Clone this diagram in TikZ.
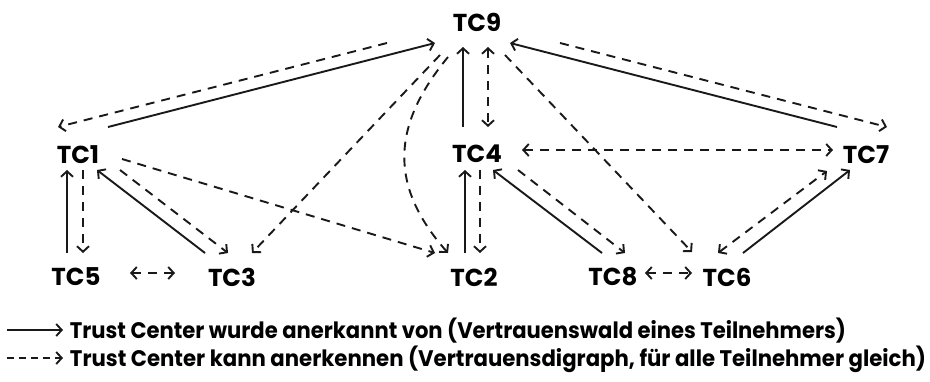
\documentclass[tikz,border=0pt]{standalone}
\usepackage{fontspec}
\usepackage{graphicx}
\setmainfont{Poppins}
\newfontfamily\tcfont{Poppins}
\newfontfamily\legfont{Poppins}
\usetikzlibrary{arrows.meta,calc}

\begin{document}
\begin{tikzpicture}[x=1pt,y=-1pt,
  line width=1.9pt,
  >={Straight Barb[length=5.5pt,width=12pt]},
  tc/.style={font=\tcfont\bfseries\fontsize{24.5}{24.5}\selectfont,inner sep=0pt},
  rec/.style={->,draw=black!90},
  can/.style={->,draw=black!90,dash pattern=on 9pt off 7pt},
  canboth/.style={<->,draw=black!90,dash pattern=on 9pt off 7pt},
  legtext/.style={font=\legfont\bfseries\fontsize{22.5}{22.5}\selectfont,inner sep=0pt,anchor=west}]
\useasboundingbox (0,0) rectangle (930,381);

% trust centers
\node[tc] (tc9) at (477,22)  {TC9};
\node[tc] (tc1) at (78,155)  {TC1};
\node[tc] (tc4) at (477,154) {TC4};
\node[tc] (tc7) at (866,155) {TC7};
\node[tc] (tc5) at (76,277)  {TC5};
\node[tc] (tc3) at (232,277) {TC3};
\node[tc] (tc2) at (474,277) {TC2};
\node[tc] (tc8) at (613,277) {TC8};
\node[tc] (tc6) at (727,277) {TC6};

% recognised trust (solid)
\draw[rec] ([shift={(30,-28)}]tc1.center) -- ([shift={(-42,21)}]tc9.center);
\draw[rec] ([shift={(-14,-27)}]tc4.center) -- ([shift={(-14,25)}]tc9.center);
\draw[rec] ([shift={(-29,-28)}]tc7.center) -- ([shift={(33,21)}]tc9.center);
\draw[rec] ([shift={(-9,-24)}]tc5.center) -- ([shift={(-11,15)}]tc1.center);
\draw[rec] ([shift={(-27,-24)}]tc3.center) -- ([shift={(19,15)}]tc1.center);
\draw[rec] ([shift={(-9,-24)}]tc2.center) -- ([shift={(-12,16)}]tc4.center);
\draw[rec] ([shift={(-11,-24)}]tc8.center) -- ([shift={(16,16)}]tc4.center);
\draw[rec] ([shift={(16,-24)}]tc6.center) -- ([shift={(-16,15)}]tc7.center);

% possible recognition (dashed)
\draw[can] ([shift={(-90,21)}]tc9.center) -- ([shift={(-20,-28)}]tc1.center);
\draw[canboth] ([shift={(11,25)}]tc9.center) -- ([shift={(11,-27)}]tc4.center);
\draw[can] ([shift={(83,21)}]tc9.center) -- ([shift={(21,-28)}]tc7.center);
\draw[canboth] ([shift={(45,-4)}]tc4.center) -- ([shift={(-33,-5)}]tc7.center);
\draw[can] ([shift={(5,15)}]tc1.center) -- ([shift={(7,-24)}]tc5.center);
\draw[can] ([shift={(42,15)}]tc1.center) -- ([shift={(-4,-24)}]tc3.center);
\draw[can] ([shift={(44,4)}]tc1.center) -- ([shift={(-39,-24)}]tc2.center);
\draw[can] ([shift={(-37,33)}]tc9.center) -- ([shift={(20,-24)}]tc3.center);
\draw[can] ([shift={(-29,35)}]tc9.center)
  .. controls ($(tc9.center)+(-85,103)$) and ($(tc2.center)+(-86,-92)$)
  .. ([shift={(-26,-24)}]tc2.center);
\draw[can] ([shift={(3,16)}]tc4.center) -- ([shift={(6,-24)}]tc2.center);
\draw[can] ([shift={(28,33)}]tc9.center) -- ([shift={(-35,-25)}]tc6.center);
\draw[can] ([shift={(41,16)}]tc4.center) -- ([shift={(12,-24)}]tc8.center);
\draw[canboth] ([shift={(-9,-24)}]tc6.center) -- ([shift={(-39,16)}]tc7.center);
\draw[canboth] ([shift={(54,-4)}]tc5.center) -- ([shift={(-57,-4)}]tc3.center);
\draw[canboth] ([shift={(32,-4)}]tc8.center) -- ([shift={(-35,-4)}]tc6.center);

% legend
\coordinate (la0) at (7,330);
\coordinate (la1) at (63,330);
\coordinate (lb0) at (7,358);
\coordinate (lb1) at (63,358);
\draw[rec] (la0) -- (la1);
\draw[can,dash pattern=on 7pt off 5pt] (lb0) -- (lb1);
\node[legtext] (leg1) at (69,331)
  {\resizebox{776pt}{\height}{Trust Center wurde anerkannt von (Vertrauenswald eines Teilnehmers)}};
\node[legtext] (leg2) at (69,359)
  {\resizebox{856pt}{\height}{Trust Center kann anerkennen (Vertrauensdigraph, für alle Teilnehmer gleich)}};
\end{tikzpicture}
\end{document}
